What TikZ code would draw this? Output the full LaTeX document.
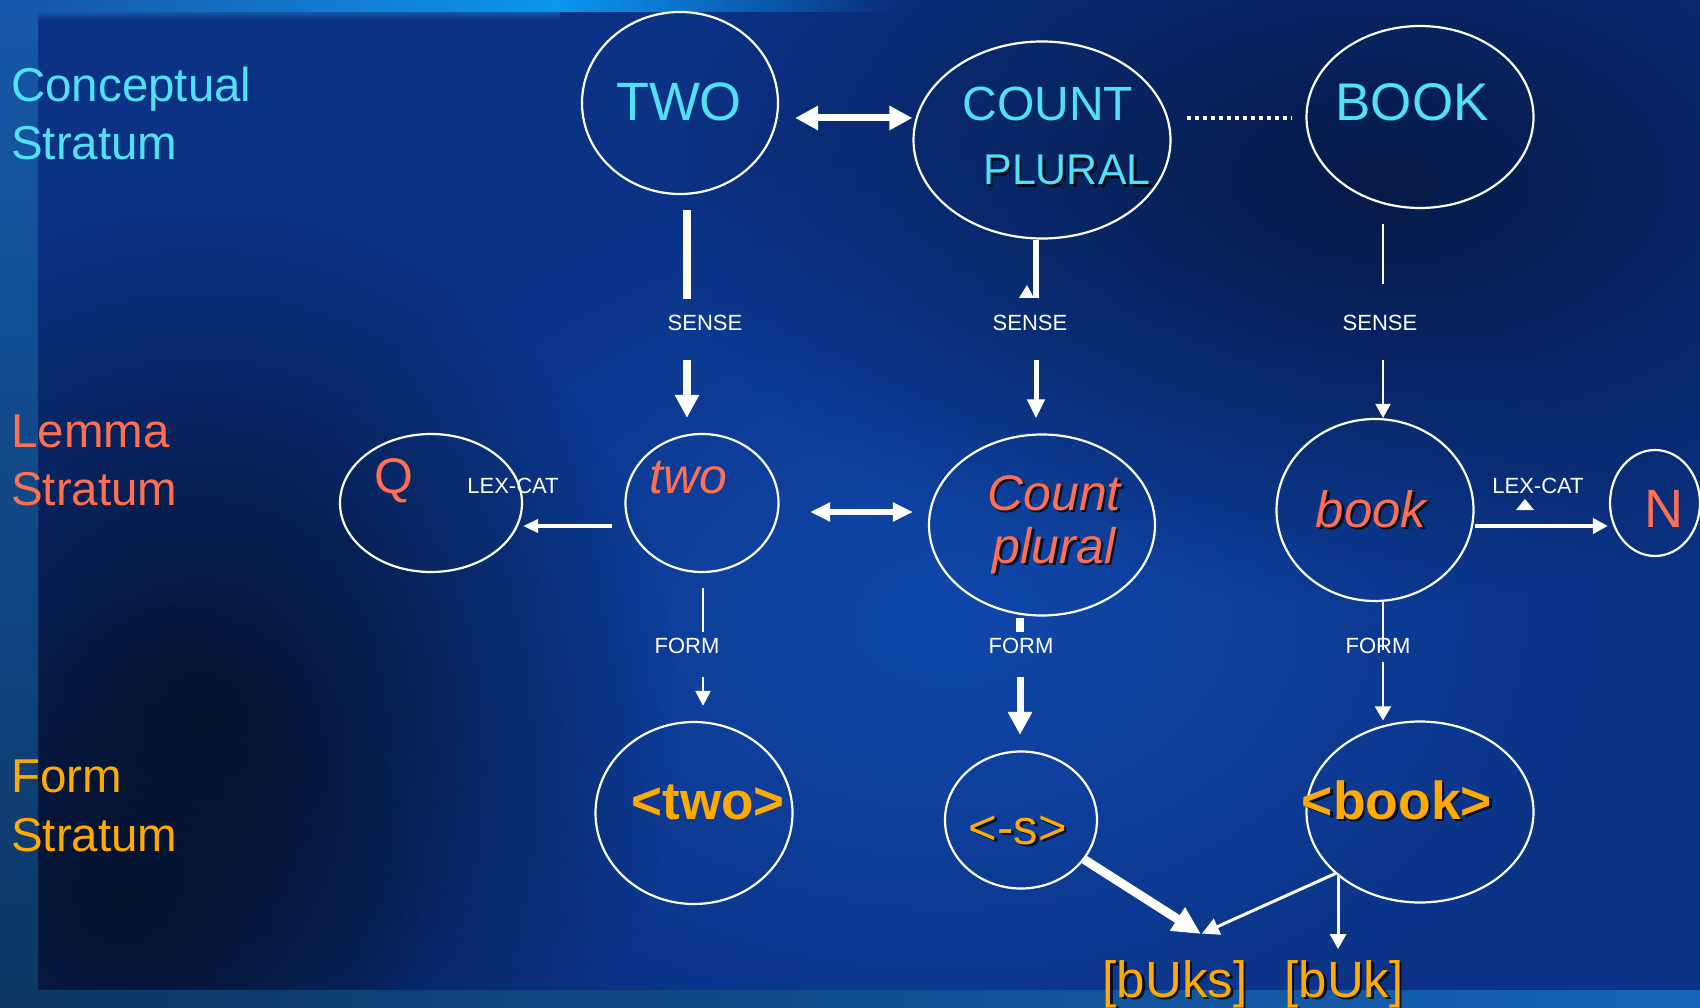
\documentclass[tikz,border=0pt]{standalone}
\usepackage{fontspec}
\setmainfont{Liberation Sans}
\usetikzlibrary{arrows.meta,shapes.geometric,fadings}

\definecolor{bgbase}{RGB}{11,50,132}
\definecolor{bgnavy}{RGB}{6,26,72}
\definecolor{bgdark}{RGB}{4,18,45}
\definecolor{bglight}{RGB}{16,72,170}
\definecolor{barlight}{RGB}{12,150,240}
\definecolor{strip}{RGB}{22,88,168}
\definecolor{stripdark}{RGB}{12,55,100}
\definecolor{bottomstrip}{RGB}{22,100,185}
\definecolor{concept}{RGB}{80,225,245}
\definecolor{lemma}{RGB}{255,112,82}
\definecolor{formc}{RGB}{255,170,0}

\tikzfading[name=softblob, inner color=transparent!0, outer color=transparent!100]
\tikzfading[name=fadeeast, left color=transparent!0, right color=transparent!100]
\tikzfading[name=fadesouth, top color=transparent!0, bottom color=transparent!100]

\newcommand\fsz[1]{\fontsize{#1}{#1}\selectfont}
% text with a dark drop shadow: name, position, style, text
\newcommand\shadowtext[4]{%
  \node[#3, text=black, opacity=.75, xshift=2.5pt, yshift=-2.5pt] at (#2) {#4};
  \node[#3] (#1) at (#2) {#4};}

\tikzset{
  oval/.style={ellipse, draw=white, line width=2.2pt, inner sep=0pt},
  txt/.style={anchor=base, inner sep=0pt},
  stratum/.style={anchor=base west, inner sep=0pt, font=\fsz{47.5}},
  lbl/.style={text=white, inner sep=0pt, font=\fsz{22}},
  conn/.style={draw=white, line width=#1},
  head/.style 2 args={arrows={-Triangle[width=#1,length=#2]}},
  heads/.style 2 args={arrows={Triangle[width=#1,length=#2]-Triangle[width=#1,length=#2]}},
  blob/.style={fill=#1, path fading=softblob},
}

\begin{document}
\begin{tikzpicture}[x=1pt,y=-1pt]
\useasboundingbox (0,0) rectangle (1700,1008);

% backdrop
\fill[bgbase] (0,0) rectangle (1700,1008);
\fill[blob=bglight] (950,620) ellipse [x radius=700pt, y radius=480pt];
\fill[blob=bgnavy] (1380,180) ellipse [x radius=720pt, y radius=420pt];
\fill[blob=bgdark] (200,720) ellipse [x radius=480pt, y radius=520pt];
\fill[blob=bgdark] (120,900) ellipse [x radius=300pt, y radius=300pt];
% glowing band along the top
\shade[left color=strip, right color=barlight] (38,0) rectangle (560,12);
\fill[barlight, path fading=fadeeast] (560,0) rectangle (900,12);
\fill[strip, path fading=fadesouth] (38,12) rectangle (560,20);
% side and bottom bands
\shade[top color=strip, bottom color=stripdark] (0,0) rectangle (38,1008);
\shade[left color=stripdark, right color=bottomstrip] (38,990) rectangle (1700,1008);

% stratum names
\node[stratum, text=concept] (sc1) at (11,102) {Conceptual};
\node[stratum, text=concept] (sc2) at (11,160) {Stratum};
\node[stratum, text=lemma] (sl1) at (11,447) {Lemma};
\node[stratum, text=lemma] (sl2) at (11,505) {Stratum};
\node[stratum, text=formc] (sf1) at (11,792) {Form};
\node[stratum, text=formc] (sf2) at (11,851) {Stratum};

% ovals
\node[oval, minimum width=196pt, minimum height=182pt] (eTWO)   at (680,103) {};
\node[oval, minimum width=257pt, minimum height=197pt] (eCOUNT) at (1042,140) {};
\node[oval, minimum width=227pt, minimum height=182pt] (eBOOK)  at (1420,117) {};
\node[oval, minimum width=182pt, minimum height=138pt] (eQ)     at (431,503) {};
\node[oval, minimum width=153pt, minimum height=138pt] (etwo)   at (702,503) {};
\node[oval, minimum width=226pt, minimum height=181pt] (eCount) at (1042,525) {};
\node[oval, minimum width=197pt, minimum height=182pt] (ebook)  at (1375,510) {};
\node[oval, minimum width=90pt,  minimum height=106pt] (eN)     at (1655,503) {};
\node[oval, minimum width=197pt, minimum height=182pt] (eTwoF)  at (694,813) {};
\node[oval, minimum width=152pt, minimum height=137pt] (eS)     at (1021,820) {};
\node[oval, minimum width=227pt, minimum height=181pt] (eBookF) at (1420,812) {};

% conceptual stratum
\node[txt, text=concept, font=\fsz{54}] (tTWO) at (679,121) {TWO};
\node[txt, text=concept, font=\fsz{48}] (tCOUNT) at (1048,121) {COUNT};
\shadowtext{tPLURAL}{1067,185}{txt, text=concept, font=\fsz{43}}{PLURAL}
\node[txt, text=concept, font=\fsz{53}] (tBOOK) at (1412,121) {BOOK};

% lemma stratum
\node[txt, text=lemma, font=\fsz{50}] (tQ) at (394,493) {Q};
\node[txt, text=lemma, font=\fsz{50}\itshape] (ttwo) at (688,493) {two};
\shadowtext{tCount}{1054,510}{txt, text=lemma, font=\fsz{50}\itshape}{Count}
\shadowtext{tplural}{1054,563}{txt, text=lemma, font=\fsz{50}\itshape}{plural}
\shadowtext{tbook}{1371,527}{txt, text=lemma, font=\fsz{51}\itshape}{book}
\node[txt, text=lemma, font=\fsz{54}] (tN) at (1664,527) {N};

% form stratum
\node[txt, text=formc, font=\fsz{53}\bfseries] (tTwoF) at (708,819) {<two>};
\shadowtext{tS}{1018,844}{txt, text=formc, font=\fsz{49}}{<-s>}
\shadowtext{tBookF}{1397,819}{txt, text=formc, font=\fsz{53.5}\bfseries}{<book>}
\shadowtext{tBUks}{1175,997}{txt, text=formc, font=\fsz{51}}{[bUks]}
\shadowtext{tBUk}{1344,997}{txt, text=formc, font=\fsz{51}}{[bUk]}

% relation labels
\node[lbl] (senseA) at (705,323) {SENSE};
\node[lbl] (senseB) at (1030,323) {SENSE};
\node[lbl] (senseC) at (1380,323) {SENSE};
\node[lbl] (formA) at (687,646) {FORM};
\node[lbl] (formB) at (1021,646) {FORM};
\node[lbl] (formC) at (1378,646) {FORM};
\node[lbl] (lexA) at (513,486) {LEX-CAT};
\node[lbl] (lexB) at (1538,486) {LEX-CAT};

% guide coordinates for the connector lines
\coordinate (yTop) at (0,118);
\coordinate (yE) at (0,526);
\coordinate (yF) at (0,512);
\coordinate (yM) at (0,949);
\coordinate (xA) at (687,0);
\coordinate (xB) at (1036,0);
\coordinate (xC) at (1383,0);
\coordinate (xH) at (703,0);
\coordinate (xI) at (1020,0);
\coordinate (kTip) at (1201,934);

% conceptual links
\draw[conn=7pt, heads={23pt}{23pt}, shorten <=16pt] (eTWO.east |- yTop) -- (eCOUNT.west |- yTop);
\draw[conn=4.5pt, dash pattern=on 4pt off 4pt, shorten <=15pt, shorten >=14pt] (eCOUNT.east |- yTop) -- (eBOOK.west |- yTop);

% SENSE links
\draw[conn=8pt, shorten <=15pt, shorten >=16pt] (eTWO.south -| xA) -- (senseA.north -| xA);
\draw[conn=8pt, head={23pt}{23pt}, shorten <=29pt, shorten >=15pt] (senseA.south -| xA) -- (etwo.north -| xA);
\draw[conn=6pt, shorten >=17pt] (eCOUNT.south -| xB) -- (senseB.north -| xB);
\fill[white] (1019,298) -- (1027,285) -- (1034,298) -- cycle;
\draw[conn=5pt, head={17pt}{19pt}, shorten <=29pt, shorten >=15pt] (senseB.south -| xB) -- (eCount.north -| xB);
\draw[conn=2pt, shorten <=15pt, shorten >=31pt] (eBOOK.south -| xC) -- (senseC.north -| xC);
\draw[conn=2pt, head={15pt}{14pt}, shorten <=29pt] (senseC.south -| xC) -- (ebook.north -| xC);

% lemma links
\draw[conn=3.5pt, head={13pt}{15pt}, shorten <=12.5pt] (etwo.west |- yE) -- (eQ.east |- yE);
\draw[conn=5.5pt, heads={18pt}{20pt}, shorten <=30.5pt, shorten >=15pt] (etwo.east |- yF) -- (eCount.west |- yF);
\draw[conn=4pt, head={15pt}{15pt}, shorten >=1pt] (ebook.east |- yE) -- (eN.west |- yE);
\fill[white] (1516,510) -- (1525,499) -- (1534,510) -- cycle;

% FORM links
\draw[conn=2pt, shorten <=15pt, shorten >=6pt] (etwo.south -| xH) -- (formA.north -| xH);
\draw[conn=2pt, head={15pt}{15pt}, shorten <=23pt, shorten >=15pt] (formA.south -| xH) -- (eTwoF.north -| xH);
\draw[conn=7.5pt, shorten <=1pt, shorten >=6pt] (eCount.south -| xI) -- (formB.north -| xI);
\draw[conn=7pt, head={23pt}{23pt}, shorten <=23pt, shorten >=15.5pt] (formB.south -| xI) -- (eS.north -| xI);
\draw[conn=2pt, shorten >=4pt] (ebook.south -| xC) -- (formC.south -| xC);
\draw[conn=2pt, head={16pt}{14pt}, shorten <=8pt] (formC.south -| xC) -- (eBookF.north -| xC);

% phonetic outputs
\draw[conn=9pt, head={26pt}{28pt}] (eS.328) -- (kTip);
\draw[conn=3pt, head={17pt}{17pt}, shorten >=1pt] (eBookF.216) -- (kTip);
\draw[conn=3pt, head={16pt}{15pt}] (eBookF.218) -- (eBookF.218 |- yM);
\end{tikzpicture}
\end{document}
